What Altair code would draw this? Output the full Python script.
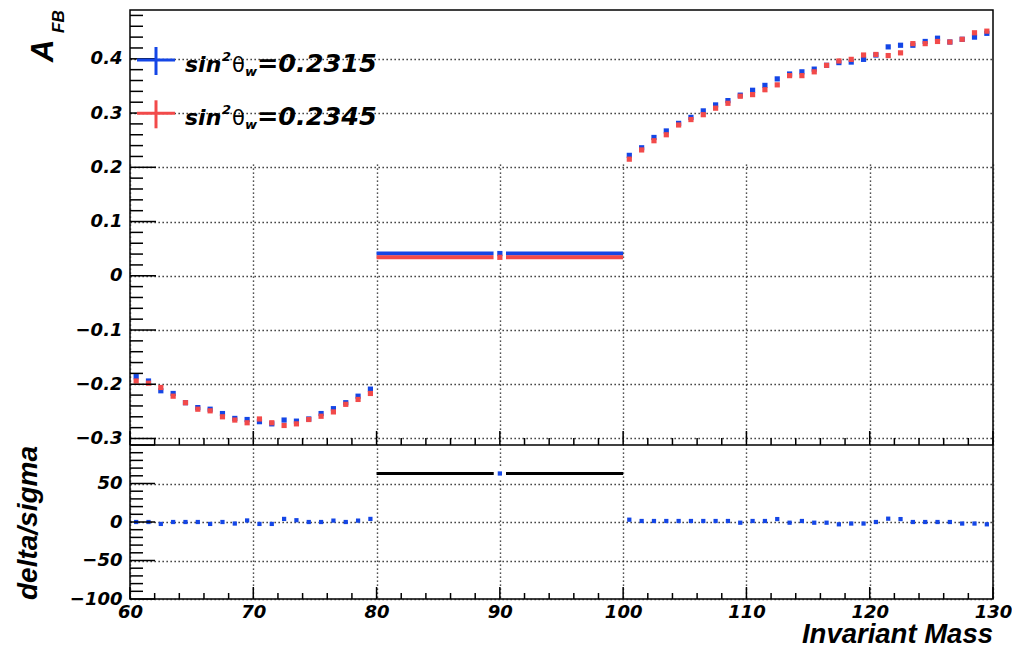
import altair as alt
import pandas as pd

# ---------------------------------------------------------------- data
# bin centres (1 GeV bins below and above the wide 80-100 bin)
mass_low = [60.5, 61.5, 62.5, 63.5, 64.5, 65.5, 66.5, 67.5, 68.5, 69.5,
            70.5, 71.5, 72.5, 73.5, 74.5, 75.5, 76.5, 77.5, 78.5, 79.5]
mass_high = [100.5, 101.5, 102.5, 103.5, 104.5, 105.5, 106.5, 107.5, 108.5, 109.5,
             110.5, 111.5, 112.5, 113.5, 114.5, 115.5, 116.5, 117.5, 118.5, 119.5,
             120.5, 121.5, 122.5, 123.5, 124.5, 125.5, 126.5, 127.5, 128.5, 129.5]
wide_bin = [80.0, 100.0]

# forward-backward asymmetry, sin^2(theta_w) = 0.2315
afb_2315_low = [-0.186, -0.194, -0.212, -0.217, -0.234, -0.243, -0.246, -0.254, -0.263, -0.265,
                -0.269, -0.273, -0.266, -0.268, -0.264, -0.254, -0.245, -0.234, -0.222, -0.209]
afb_2315_high = [0.222, 0.236, 0.255, 0.267, 0.281, 0.292, 0.304, 0.315, 0.323, 0.333,
                 0.342, 0.351, 0.363, 0.372, 0.376, 0.381, 0.388, 0.393, 0.394, 0.399,
                 0.407, 0.422, 0.425, 0.425, 0.432, 0.438, 0.431, 0.436, 0.440, 0.447]
afb_2315_wide = 0.041

# forward-backward asymmetry, sin^2(theta_w) = 0.2345
afb_2345_low = [-0.194, -0.198, -0.206, -0.222, -0.234, -0.246, -0.249, -0.260, -0.266, -0.271,
                -0.264, -0.271, -0.276, -0.273, -0.265, -0.259, -0.251, -0.237, -0.228, -0.217]
afb_2345_high = [0.215, 0.232, 0.249, 0.260, 0.278, 0.288, 0.297, 0.309, 0.318, 0.331,
                 0.334, 0.343, 0.352, 0.369, 0.369, 0.376, 0.388, 0.396, 0.399, 0.407,
                 0.408, 0.406, 0.411, 0.428, 0.428, 0.432, 0.431, 0.436, 0.448, 0.451]
afb_2345_wide = 0.034

# delta/sigma between the two hypotheses
pull_low = [0.0, 0.0, -2.5, 0.0, 0.0, 0.0, -2.5, 0.0, -2.0, 2.0,
            -2.5, -2.5, 4.0, 2.3, 0.0, 0.0, 1.8, 0.0, 1.8, 4.0]
pull_high = [3.0, 1.3, 1.3, 1.3, 1.3, 1.3, 1.3, 1.3, 1.3, -0.9,
             1.3, 1.3, 3.8, -0.9, 1.3, -0.9, -0.9, -3.0, -2.0, -2.0,
             0.0, 4.3, 3.8, 0.0, 0.0, 0.0, 0.0, -2.0, -2.0, -3.0]
pull_wide = 63.0

legend_labels = ["0.2315", "0.2345"]

# axis ticks
x_major = list(range(60, 131, 10))
x_minor = [v for v in range(60, 131, 2) if v % 10]
yt_major = [-0.3, -0.2, -0.1, 0.0, 0.1, 0.2, 0.3, 0.4]
yt_minor = [round(-0.3 + 0.02 * i, 2) for i in range(0, 40) if i % 5]
yb_major = [-100, -50, 0, 50, 100]
yb_minor = [v for v in range(-100, 101, 10) if v % 50]

# ---------------------------------------------------------------- style
BLUE = "#1446e6"
RED = "#f24a4a"
W, H, H_TOP = 863, 589, 435
FONT = "DejaVu Sans"
TFONT = "Liberation Sans"

x_scale = alt.Scale(domain=[60, 130], nice=False, zero=False)
yt_scale = alt.Scale(domain=[-0.312, 0.49], range=[H_TOP, 0], nice=False, zero=False)
yb_scale = alt.Scale(domain=[-100, 100], range=[H, H_TOP], nice=False, zero=False)

label_style = dict(labelFont=FONT, labelFontStyle="italic", labelFontWeight="bold",
                   labelFontSize=18, labelColor="black", labelFlush=False,
                   labelOverlap=False, ticks=False, domain=False, title=None,
                   grid=True, gridDash=[1.3, 2.7], gridColor="#1a1a1a", gridWidth=1.4)

x_axis = alt.Axis(values=x_major, format="d", labelPadding=4, **label_style)
yt_axis = alt.Axis(values=yt_major, format=".1~f", labelPadding=8, orient="left", **label_style)
yb_axis = alt.Axis(values=[-100, -50, 0, 50], format="d", labelPadding=8, orient="left",
                   **label_style)


def X(f):
    return alt.X(f, type="quantitative", scale=x_scale, axis=x_axis)


def YT(f):
    return alt.Y(f, type="quantitative", scale=yt_scale, axis=yt_axis)


def YB(f):
    return alt.Y(f, type="quantitative", scale=yb_scale, axis=yb_axis)


one = pd.DataFrame({"k": [0]})


def text(t, x, y, size, font=FONT, style="italic", weight="bold", angle=0, align="left"):
    return alt.Chart(one).mark_text(
        text=t, font=font, fontSize=size, fontStyle=style, fontWeight=weight,
        angle=angle, align=align, baseline="alphabetic", color="black"
    ).encode(x=alt.value(x), y=alt.value(y))


# ---------------------------------------------------------------- upper pad: A_FB
top_layers = []

series = [
    (BLUE, afb_2315_low, afb_2315_high, afb_2315_wide),
    (RED, afb_2345_low, afb_2345_high, afb_2345_wide),
]

# wide 80-100 bin drawn as a horizontal error bar
for color, lo, hi, wide in series:
    df = pd.DataFrame({"lo": [wide_bin[0]], "hi": [wide_bin[1]], "afb": [wide]})
    top_layers.append(alt.Chart(df).mark_rule(color=color, strokeWidth=4).encode(
        x=X("lo"), x2=alt.X2("hi"), y=YT("afb")))

# gap around the marker of the wide bin
centre = (wide_bin[0] + wide_bin[1]) / 2
gap_df = pd.DataFrame({"m": [centre, centre], "afb": [afb_2315_wide, afb_2345_wide]})
top_layers.append(alt.Chart(gap_df).mark_square(size=150, color="white", opacity=1).encode(
    x=X("m"), y=YT("afb")))

for color, lo, hi, wide in series:
    df = pd.DataFrame({"m": mass_low + [centre] + mass_high,
                       "afb": lo + [wide] + hi})
    top_layers.append(alt.Chart(df).mark_square(size=27, color=color, opacity=1).encode(
        x=X("m"), y=YT("afb")))

# inward ticks of the upper pad
top_layers += [
    alt.Chart(pd.DataFrame({"v": yt_major})).mark_rule(color="black", strokeWidth=1.5).encode(
        y=YT("v"), x=alt.value(0), x2=alt.value(26)),
    alt.Chart(pd.DataFrame({"v": yt_minor})).mark_rule(color="black", strokeWidth=1.5).encode(
        y=YT("v"), x=alt.value(0), x2=alt.value(13)),
    alt.Chart(pd.DataFrame({"v": x_major})).mark_rule(color="black", strokeWidth=1.5).encode(
        x=X("v"), y=alt.value(H_TOP), y2=alt.value(H_TOP - 14)),
    alt.Chart(pd.DataFrame({"v": x_minor})).mark_rule(color="black", strokeWidth=1.5).encode(
        x=X("v"), y=alt.value(H_TOP), y2=alt.value(H_TOP - 7)),
]

# legend
for i, (color, label) in enumerate(zip([BLUE, RED], legend_labels)):
    dy = 53.3 * i
    top_layers += [
        alt.Chart(one).mark_rule(color=color, strokeWidth=3).encode(
            x=alt.value(7), x2=alt.value(45), y=alt.value(50 + dy)),
        alt.Chart(one).mark_rule(color=color, strokeWidth=3).encode(
            x=alt.value(26), y=alt.value(37 + dy), y2=alt.value(65 + dy)),
        text("sin", 55, 61.7 + dy, 22),
        text("2", 92, 51 + dy, 13),
        text("θ", 102, 61.7 + dy, 21, style="normal", weight="normal"),
        text("w", 115, 66 + dy, 13),
        text("=" + label, 127, 61.7 + dy, 25.5),
    ]

# y title A_FB
top_layers += [
    text("A", -77, 52, 31, font=TFONT, angle=270),
    text("FB", -66, 23, 17, font=TFONT, angle=270),
]

top = alt.layer(*top_layers)

# ---------------------------------------------------------------- lower pad: delta/sigma
bot_layers = []

wide_pull = pd.DataFrame({"lo": [wide_bin[0]], "hi": [wide_bin[1]], "m": [centre], "p": [pull_wide]})
bot_layers += [
    alt.Chart(wide_pull).mark_rule(color="black", strokeWidth=3).encode(
        x=X("lo"), x2=alt.X2("hi"), y=YB("p")),
    alt.Chart(wide_pull).mark_square(size=150, color="white", opacity=1).encode(
        x=X("m"), y=YB("p")),
]

pull_df = pd.DataFrame({"m": mass_low + [centre] + mass_high,
                        "p": pull_low + [pull_wide] + pull_high})
bot_layers.append(alt.Chart(pull_df).mark_square(size=18, color=BLUE, opacity=1).encode(
    x=X("m"), y=YB("p")))

# pad separator and inward ticks
bot_layers += [
    alt.Chart(pd.DataFrame({"v": [100]})).mark_rule(color="black", strokeWidth=1.5).encode(
        y=YB("v")),
    alt.Chart(pd.DataFrame({"v": yb_major})).mark_rule(color="black", strokeWidth=1.5).encode(
        y=YB("v"), x=alt.value(0), x2=alt.value(25)),
    alt.Chart(pd.DataFrame({"v": yb_minor})).mark_rule(color="black", strokeWidth=1.5).encode(
        y=YB("v"), x=alt.value(0), x2=alt.value(13)),
    alt.Chart(pd.DataFrame({"v": x_major})).mark_rule(color="black", strokeWidth=1.5).encode(
        x=X("v"), y=alt.value(H), y2=alt.value(H - 12)),
    alt.Chart(pd.DataFrame({"v": x_minor})).mark_rule(color="black", strokeWidth=1.5).encode(
        x=X("v"), y=alt.value(H), y2=alt.value(H - 6)),
]

# axis titles
bot_layers += [
    text("delta/sigma", -93, 513, 28, font=TFONT, angle=270, align="center"),
    text("Invariant Mass", W, 632.5, 27.5, font=TFONT, align="right"),
]

bottom = alt.layer(*bot_layers)

chart = alt.layer(top, bottom).resolve_scale(y="independent").properties(
    width=W, height=H,
    autosize=alt.AutoSizeParams(type="none"),
    padding={"left": 130, "top": 10, "right": 19, "bottom": 50},
    background="white",
).configure_view(stroke="black", strokeWidth=1.5)

chart.save("out.html", embed_options={"renderer": "svg", "actions": False})
